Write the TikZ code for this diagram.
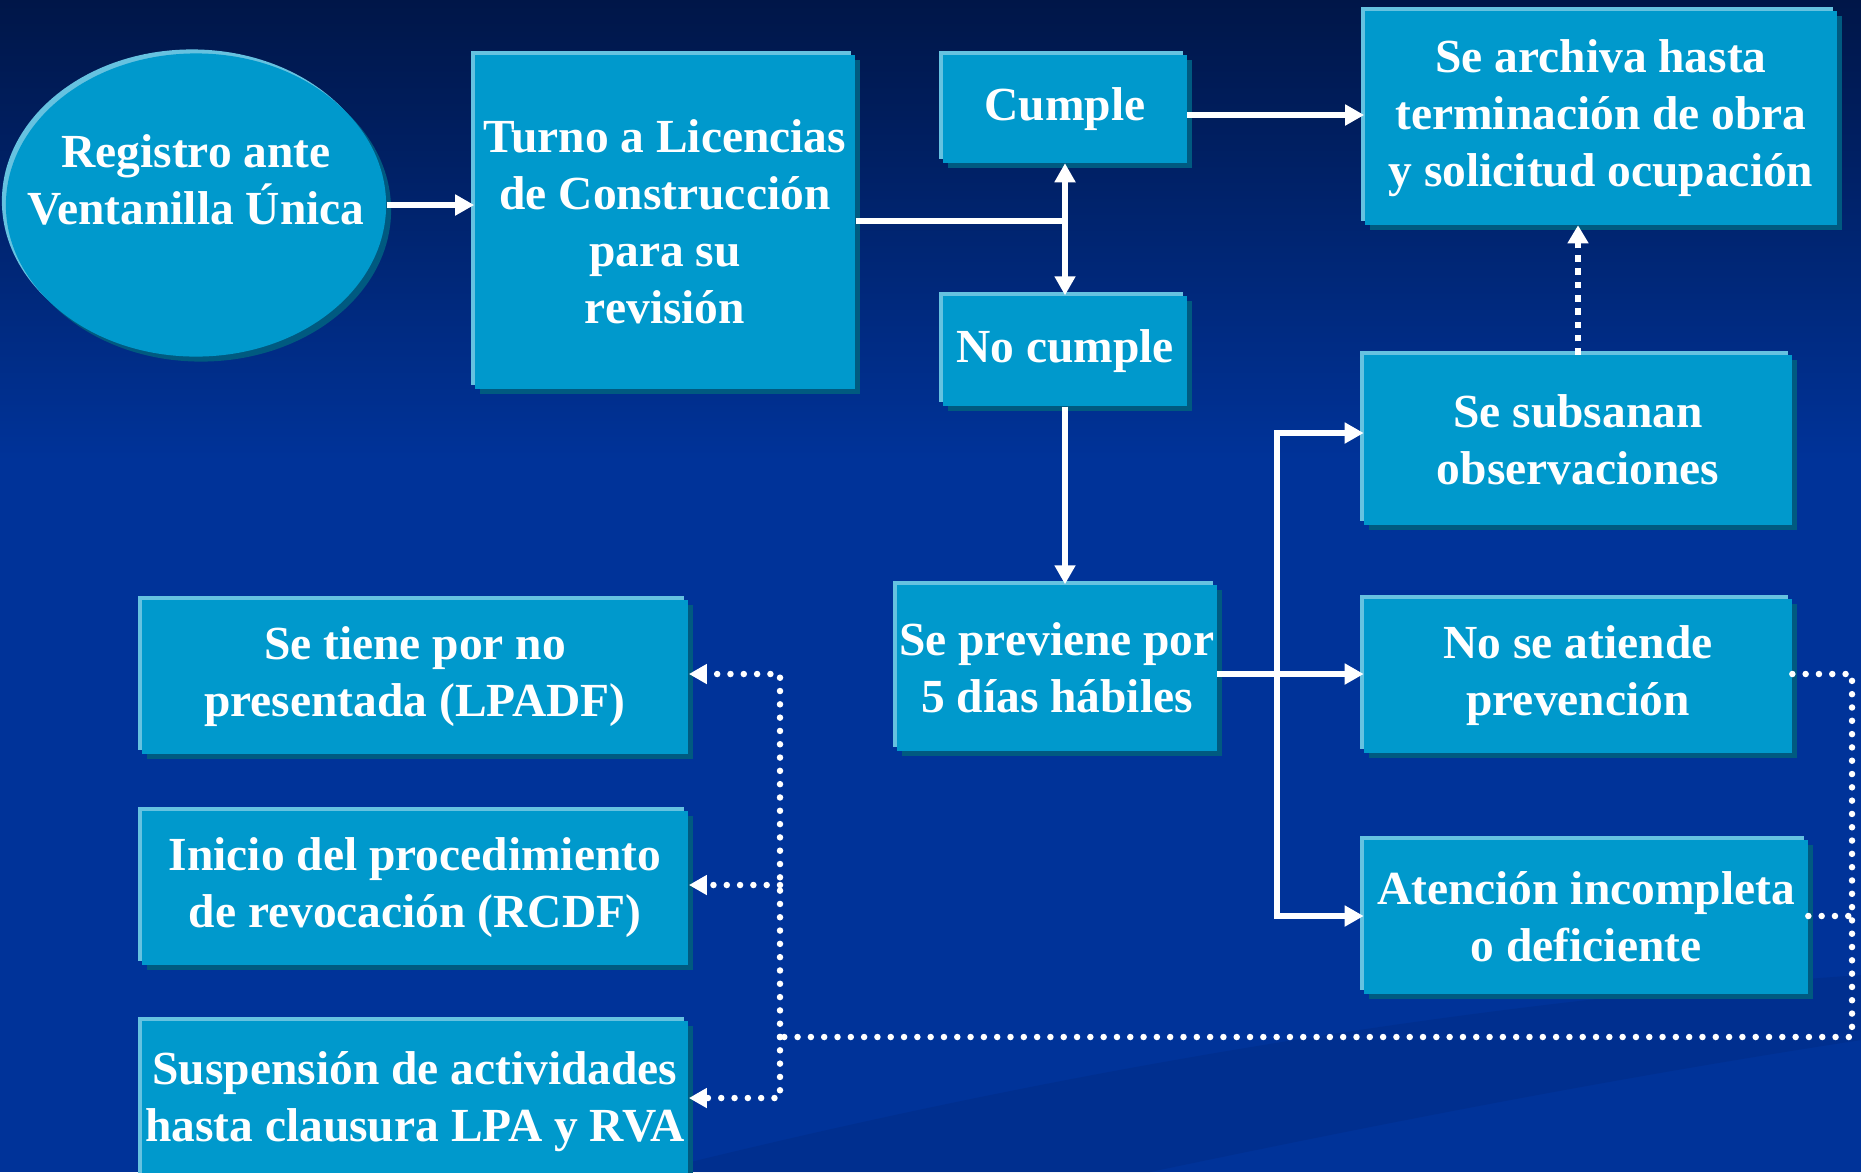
\documentclass[tikz,border=0pt]{standalone}
\usepackage{fontspec}
\setmainfont{Liberation Serif}
\usetikzlibrary{arrows.meta,shapes.geometric,shadows}
\definecolor{bgtop}{RGB}{0,22,72}
\definecolor{bgblue}{RGB}{0,51,153}
\definecolor{bgdark}{RGB}{0,40,125}
\definecolor{boxfill}{RGB}{0,153,204}
\definecolor{boxlight}{RGB}{102,194,224}
\definecolor{boxshade}{RGB}{0,90,128}

\tikzset{
  boxtext/.style={text=white, align=center, inner sep=0pt,
    font=\fontsize{13.5}{16.2}\selectfont\bfseries},
  flowbox/.style={boxtext, rectangle, fill=boxfill,
    general shadow={fill=boxlight, shadow xshift=-0.4mm, shadow yshift=0.4mm},
    general shadow={fill=boxshade, shadow xshift=0.5mm, shadow yshift=-0.5mm}},
  flowline/.style={draw=white, line width=0.055cm},
  flowarrow/.style={flowline, -{Triangle[width=0.2cm,length=0.19cm]}},
  dotline/.style={draw=white, line width=0.065cm, line cap=round,
    dash pattern=on 0pt off 0.133cm},
  dotarrow/.style={dotline, -{Triangle[width=0.19cm,length=0.18cm]}},
  dasharrow/.style={draw=white, line width=0.065cm,
    dash pattern=on 0.065cm off 0.068cm, -{Triangle[width=0.2cm,length=0.18cm]}}
}

\begin{document}
\begin{tikzpicture}[x=0.01cm,y=-0.01cm]
\useasboundingbox (0,0) rectangle (1861,1172);

% fondo
\fill[bgblue] (0,0) rectangle (1861,1172);
\shade[top color=bgtop, bottom color=bgblue] (0,0) rectangle (1861,460);
\fill[bgdark, opacity=.35] (650,1172) .. controls (1100,1060) and (1500,1000) .. (1861,975)
  -- (1861,1040) .. controls (1600,1080) and (1350,1130) .. (1150,1172) -- cycle;

\node[flowbox, ellipse, minimum width=3.8cm, minimum height=3.03cm] (reg) at (196,205) {};
\node[boxtext] (regtext) at (196,180) {Registro ante\\Ventanilla Única};

\node[flowbox, minimum width=3.8cm, minimum height=3.34cm] (turno) at (665,222)
  {Turno a Licencias\\de Construcción\\para su\\revisión};
\node[flowbox, minimum width=2.43cm, minimum height=1.07cm] (cumple) at (1065,109) {Cumple};
\node[flowbox, minimum width=2.43cm, minimum height=1.10cm] (nocumple) at (1065,351) {No cumple};
\node[flowbox, minimum width=4.72cm, minimum height=2.13cm] (archiva) at (1601,118)
  {Se archiva hasta\\terminación de obra\\y solicitud ocupación};
\node[flowbox, minimum width=4.27cm, minimum height=1.69cm] (subsanan) at (1578,440)
  {Se subsanan\\observaciones};
\node[flowbox, minimum width=3.19cm, minimum height=1.66cm] (previene) at (1057,668)
  {Se previene por\\5 días hábiles};
\node[flowbox, minimum width=4.27cm, minimum height=1.53cm] (noatiende) at (1578,676)
  {No se atiende\\prevención};
\node[flowbox, minimum width=4.43cm, minimum height=1.53cm] (atencion) at (1586,917)
  {Atención incompleta\\o deficiente};
\node[flowbox, minimum width=5.46cm, minimum height=1.53cm] (notiene) at (415,677)
  {Se tiene por no\\presentada (LPADF)};
\node[flowbox, minimum width=5.46cm, minimum height=1.53cm] (inicio) at (415,888)
  {Inicio del procedimiento\\de revocación (RCDF)};
\node[flowbox, minimum width=5.46cm, minimum height=1.62cm] (suspension) at (415,1102)
  {Suspensión de actividades\\hasta clausura LPA y RVA};

\coordinate (split) at (1065,221);
\coordinate (fork) at (1277,674);
\coordinate (rloop) at (1852,1037);
\coordinate (lloop) at (780,1037);

\draw[flowarrow] (reg.east) -- (reg.east -| turno.west);
\draw[flowline] (turno.east |- split) -- (split);
\draw[flowarrow] (split) -- (cumple.south);
\draw[flowarrow] (split) -- (nocumple.north);
\draw[flowarrow] (cumple.east |- 0,115) -- (archiva.west |- 0,115);
\draw[flowarrow] (nocumple.south) -- (nocumple.south |- previene.north);
\draw[flowarrow] (previene.east |- fork) -- (noatiende.west |- fork);
\draw[flowarrow] (fork) |- (subsanan.west |- 0,433);
\draw[flowarrow] (fork) |- (atencion.west |- 0,916);
\draw[dasharrow] (subsanan.north) -- (subsanan.north |- archiva.south);

\draw[dotline] (noatiende.east |- fork) -| (rloop) -- (lloop);
\draw[dotline] (atencion.east |- 0,916) -- (rloop |- 0,916);
\draw[dotarrow] (lloop) |- (notiene.east |- 0,674);
\draw[dotarrow] (lloop |- 0,885) -- (inicio.east |- 0,885);
\draw[dotarrow] (lloop) |- (suspension.east |- 0,1098);

\end{tikzpicture}
\end{document}
